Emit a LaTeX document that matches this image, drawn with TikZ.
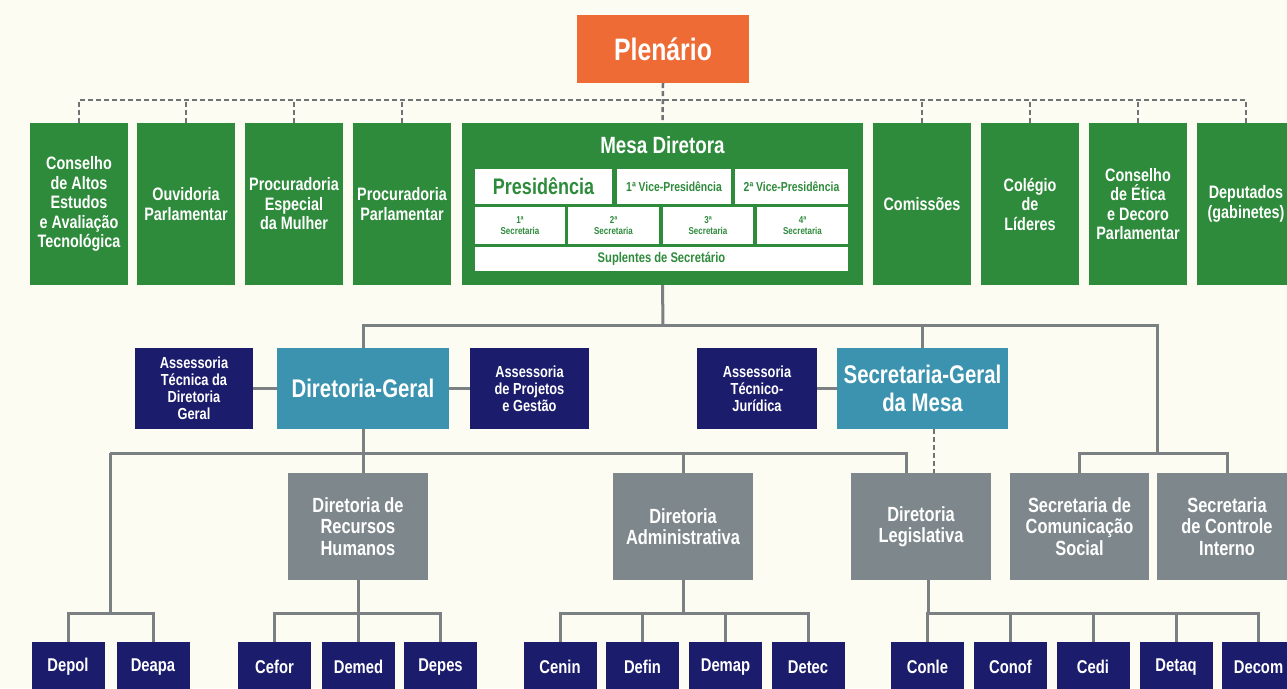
\documentclass[tikz,border=0pt]{standalone}
\usepackage{fontspec}
\setmainfont{Liberation Sans}[FakeStretch=0.8]
\usetikzlibrary{calc}
\definecolor{bg}{HTML}{FDFCF3}
\definecolor{cgreen}{HTML}{2E8B3B}
\definecolor{corange}{HTML}{EE6B35}
\definecolor{cteal}{HTML}{3C93AF}
\definecolor{cnavy}{HTML}{1C1C6C}
\definecolor{cgray}{HTML}{7E888C}
\definecolor{cline}{HTML}{7B8083}
\newcommand{\fs}[2]{\fontsize{#1}{#2}\selectfont\bfseries}
\tikzset{
  base/.style={inner sep=0pt, align=center, font=\bfseries},
  gbox/.style={base, fill=cgreen, text=white, minimum width=98pt, minimum height=162pt, font=\fs{18}{19.5}},
  wbox/.style={base, fill=white, text=cgreen},
  nbox/.style={base, fill=cnavy, text=white, minimum height=81pt, font=\fs{16}{17}},
  tbox/.style={base, fill=cteal, text=white, minimum height=81pt, font=\fs{25.5}{28}},
  ybox/.style={base, fill=cgray, text=white, minimum width=140pt, minimum height=107pt, font=\fs{20.5}{21.5}},
  sbox/.style={base, fill=cnavy, text=white, minimum width=73pt, minimum height=50pt, font=\fs{18.5}{19}},
  conn/.style={draw=cline, line width=3pt},
  dashline/.style={draw=cline!90!black, line width=2.5pt, dash pattern=on 5pt off 3pt}
}
\begin{document}
\begin{tikzpicture}[x=1pt, y=-1pt]
\useasboundingbox (0,0) rectangle (1287,688);
\fill[bg] (0,0) rectangle (1287,688);
\clip (0,0) rectangle (1287,688);

% Plenario
\node[base, fill=corange, text=white, minimum width=172pt, minimum height=68pt, font=\fs{31}{33}] (plen) at (663,49) {Plenário};

% top row
\node[gbox] (b1) at (79,204) {Conselho\\de Altos\\Estudos\\e Avaliação\\Tecnológica};
\node[gbox] (b2) at (186,204) {Ouvidoria\\Parlamentar};
\node[gbox] (b3) at (294,204) {Procuradoria\\Especial\\da Mulher};
\node[gbox] (b4) at (402,204) {Procuradoria\\Parlamentar};
\node[base, fill=cgreen, minimum width=401pt, minimum height=162pt] (mesa) at (662.5,204) {};
\node[gbox] (b6) at (922,204) {Comissões};
\node[gbox] (b7) at (1030,204) {Colégio\\de\\Líderes};
\node[gbox] (b8) at (1138,204) {Conselho\\de Ética\\e Decoro\\Parlamentar};
\node[gbox] (b9) at (1246,204) {Deputados\\(gabinetes)};

% Mesa Diretora contents
\node[base, text=white, font=\fs{23.5}{25}] (mtitle) at (662.5,145) {Mesa Diretora};
\node[wbox, minimum width=137pt, minimum height=35pt, font=\fs{22.5}{24}] (pres) at (543.5,186.5) {Presidência};
\node[wbox, minimum width=114pt, minimum height=35pt, font=\fs{13}{14}] (vp1) at (674,186.5) {1ª Vice-Presidência};
\node[wbox, minimum width=113pt, minimum height=35pt, font=\fs{13}{14}] (vp2) at (791.5,186.5) {2ª Vice-Presidência};
\node[wbox, minimum width=90pt, minimum height=37pt, font=\fs{10}{10.5}] (s1) at (520,225.5) {1ª\\Secretaria};
\node[wbox, minimum width=91pt, minimum height=37pt, font=\fs{10}{10.5}] (s2) at (613.5,225.5) {2ª\\Secretaria};
\node[wbox, minimum width=90pt, minimum height=37pt, font=\fs{10}{10.5}] (s3) at (708,225.5) {3ª\\Secretaria};
\node[wbox, minimum width=91pt, minimum height=37pt, font=\fs{10}{10.5}] (s4) at (802.5,225.5) {4ª\\Secretaria};
\node[wbox, minimum width=373pt, minimum height=24pt, font=\fs{14}{15}] (supl) at (661.5,259) {Suplentes de Secretário};

% second row
\node[nbox, minimum width=118pt] (atd) at (194,388.5) {Assessoria\\Técnica da\\Diretoria\\Geral};
\node[tbox, minimum width=172pt] (dg) at (363,388.5) {Diretoria-Geral};
\node[nbox, minimum width=119pt] (apg) at (529.5,388.5) {Assessoria\\de Projetos\\e Gestão};
\node[nbox, minimum width=120pt] (atj) at (757,388.5) {Assessoria\\Técnico-\\Jurídica};
\node[tbox, minimum width=171pt] (sg) at (922.5,388.5) {Secretaria-Geral\\da Mesa};

% third row
\node[ybox] (drh) at (358,526.5) {Diretoria de\\Recursos\\Humanos};
\node[ybox] (da) at (683,526.5) {Diretoria\\Administrativa};
\node[ybox] (dl) at (921,526.5) {Diretoria\\Legislativa};
\node[ybox, minimum width=139pt] (scs) at (1079.5,526.5) {Secretaria de\\Comunicação\\Social};
\node[ybox] (sci) at (1227,526.5) {Secretaria\\de Controle\\Interno};

% bottom row
\node[sbox] (depol) at (68,667) {Depol};
\node[sbox] (deapa) at (153,667) {Deapa};
\node[sbox] (cefor) at (274.5,667) {Cefor};
\node[sbox] (demed) at (358.5,667) {Demed};
\node[sbox] (depes) at (440.5,667) {Depes};
\node[sbox] (cenin) at (560,667) {Cenin};
\node[sbox] (defin) at (642.5,667) {Defin};
\node[sbox] (demap) at (725.5,667) {Demap};
\node[sbox] (detec) at (808,667) {Detec};
\node[sbox] (conle) at (927.5,667) {Conle};
\node[sbox] (conof) at (1010.5,667) {Conof};
\node[sbox] (cedi) at (1093,667) {Cedi};
\node[sbox] (detaq) at (1176,667) {Detaq};
\node[sbox] (decom) at (1258.5,667) {Decom};

% dashed links from Plenario
\coordinate (tb) at (663,100);
\draw[dashline] (plen.south) -- (mesa.north);
\draw[dashline] (b1.north) |- (tb) -| (b9.north);
\foreach \n in {b2,b3,b4,b6,b7,b8} \draw[dashline] (\n.north) -- (\n.north |- tb);

% Mesa to second level
\coordinate (j1) at (663,325);
\coordinate (jR) at (1157,453);
\draw[conn] (mesa.south) -- (j1);
\draw[conn] (dg.north) |- (j1);
\draw[conn] (j1) -| (jR);
\draw[conn] (sg.north) -- (sg.north |- j1);
\draw[conn] (scs.north) |- (jR) -| (sci.north);

% side links
\draw[conn] (atd.east) -- (dg.west);
\draw[conn] (dg.east) -- (apg.west);
\draw[conn] (atj.east) -- (sg.west);

% Diretoria-Geral bus
\coordinate (jL) at (110,453);
\coordinate (jDep) at (110,613);
\coordinate (dlin) at ([xshift=-15pt]dl.north);
\draw[conn] (dlin) |- (jL);
\draw[conn] (dg.south) -- (dg.south |- drh.north);
\draw[conn] (da.north) -- (da.north |- jL);
\draw[conn] (jL) -- (jDep);
\draw[conn] (depol.north) |- (jDep) -| (deapa.north);

% SG dashed to DL
\coordinate (sgx) at ([xshift=11.5pt]sg.south);
\draw[dashline] (sgx) -- (sgx |- dl.north);

% DRH children
\draw[conn] (drh.south) -- ++(0,33) coordinate (b2j);
\draw[conn] (cefor.north) |- (b2j) -| (depes.north);
\draw[conn] (b2j) -- (b2j |- demed.north);

% DA children
\draw[conn] (da.south) -- ++(0,33) coordinate (b3j);
\draw[conn] (cenin.north) |- (b3j) -| (detec.north);
\draw[conn] (defin.north) -- (defin.north |- b3j);
\draw[conn] (demap.north) -- (demap.north |- b3j);

% DL children
\draw[conn] ([xshift=7pt]dl.south) -- ++(0,33) coordinate (b4j);
\draw[conn] (conle.north) |- (b4j) -| (decom.north);
\draw[conn] (conof.north) -- (conof.north |- b4j);
\draw[conn] (cedi.north) -- (cedi.north |- b4j);
\draw[conn] (detaq.north) -- (detaq.north |- b4j);
\end{tikzpicture}
\end{document}
